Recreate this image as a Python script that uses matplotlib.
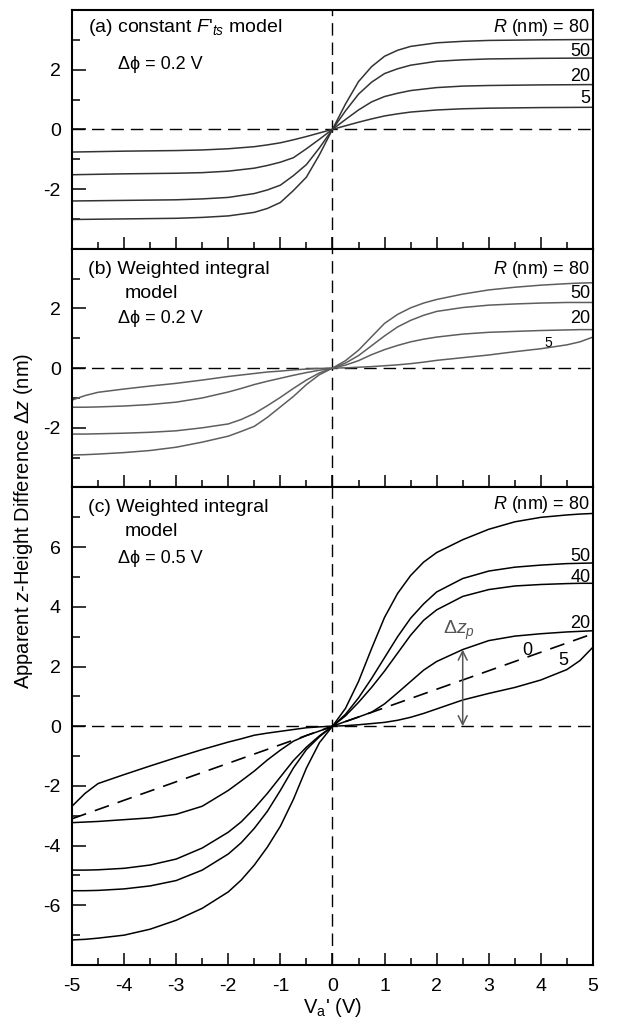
import numpy as np
import matplotlib
matplotlib.use('Agg')
import matplotlib.pyplot as plt
from matplotlib.ticker import MultipleLocator

plt.rcParams.update({'font.family': ['Liberation Sans', 'DejaVu Sans']})
plt.rcParams.update({'font.size': 13})
plt.rcParams.update({'axes.unicode_minus': False})
plt.rcParams.update({'mathtext.fontset': 'custom'})
plt.rcParams.update({'mathtext.rm': 'Liberation Sans'})
plt.rcParams.update({'mathtext.it': 'Liberation Sans:italic'})

#%% data
# panel (a) constant F'ts model, dphi = 0.2 V
xa = [-5, -4, -3, -2.5, -2, -1.5, -1.25, -1, -0.75, -0.5, -0.25, 0,
      0.25, 0.5, 0.75, 1, 1.25, 1.5, 2, 2.5, 3, 4, 5]
a_R80 = [-3.02, -3.0, -2.98, -2.95, -2.9, -2.78, -2.65, -2.45, -2.05, -1.6, -0.85, 0,
         0.85, 1.6, 2.1, 2.45, 2.65, 2.78, 2.9, 2.95, 2.98, 3.0, 3.01]
a_R50 = [-2.4, -2.38, -2.36, -2.33, -2.28, -2.15, -2.03, -1.87, -1.55, -1.18, -0.62, 0,
         0.62, 1.18, 1.58, 1.87, 2.03, 2.15, 2.28, 2.33, 2.36, 2.38, 2.39]
a_R20 = [-1.52, -1.49, -1.47, -1.45, -1.4, -1.3, -1.21, -1.1, -0.95, -0.65, -0.33, 0,
         0.33, 0.65, 0.92, 1.1, 1.21, 1.3, 1.4, 1.45, 1.47, 1.49, 1.5]
a_R5 = [-0.76, -0.73, -0.71, -0.69, -0.65, -0.58, -0.52, -0.45, -0.35, -0.24, -0.12, 0,
        0.12, 0.24, 0.35, 0.45, 0.52, 0.58, 0.65, 0.69, 0.71, 0.73, 0.74]

# panels (b) and (c) weighted integral model
xb = [-5, -4.75, -4.5, -4, -3.5, -3, -2.5, -2, -1.75, -1.5, -1.25, -1, -0.75, -0.5, -0.25, 0,
      0.25, 0.5, 0.75, 1, 1.25, 1.5, 1.75, 2, 2.5, 3, 3.5, 4, 4.5, 4.75, 5]
b_R80 = [-2.91, -2.9, -2.88, -2.83, -2.76, -2.65, -2.48, -2.28, -2.12, -1.95, -1.65, -1.3, -0.95, -0.55, -0.22, 0,
         0.25, 0.6, 1.05, 1.5, 1.8, 2.02, 2.18, 2.3, 2.48, 2.62, 2.71, 2.78, 2.83, 2.85, 2.86]
b_R50 = [-2.21, -2.21, -2.2, -2.18, -2.15, -2.1, -2.0, -1.87, -1.72, -1.52, -1.26, -0.98, -0.68, -0.4, -0.16, 0,
         0.17, 0.42, 0.75, 1.08, 1.38, 1.6, 1.77, 1.9, 2.03, 2.11, 2.15, 2.18, 2.2, 2.2, 2.2]
b_R20 = [-1.31, -1.31, -1.3, -1.27, -1.22, -1.14, -1.0, -0.8, -0.68, -0.55, -0.44, -0.34, -0.24, -0.15, -0.07, 0,
         0.1, 0.25, 0.45, 0.62, 0.76, 0.88, 0.97, 1.04, 1.14, 1.2, 1.23, 1.26, 1.28, 1.29, 1.29]
b_R5 = [-1.07, -0.92, -0.81, -0.7, -0.6, -0.51, -0.4, -0.28, -0.23, -0.18, -0.13, -0.1, -0.06, -0.03, -0.01, 0,
        0.01, 0.03, 0.05, 0.08, 0.11, 0.15, 0.2, 0.26, 0.35, 0.44, 0.55, 0.65, 0.78, 0.88, 1.04]

c_R80 = [-7.16, -7.14, -7.1, -7.0, -6.8, -6.5, -6.1, -5.55, -5.15, -4.65, -4.05, -3.35, -2.45, -1.4, -0.55, 0,
         0.6, 1.5, 2.6, 3.65, 4.45, 5.05, 5.5, 5.82, 6.25, 6.6, 6.85, 7.0, 7.08, 7.11, 7.13]
c_R50 = [-5.51, -5.51, -5.5, -5.45, -5.35, -5.17, -4.82, -4.28, -3.9, -3.42, -2.85, -2.15, -1.4, -0.78, -0.35, 0,
         0.4, 0.95, 1.6, 2.3, 3.0, 3.62, 4.1, 4.5, 4.95, 5.2, 5.33, 5.4, 5.45, 5.46, 5.47]
c_R40 = [-4.82, -4.82, -4.81, -4.76, -4.65, -4.45, -4.08, -3.55, -3.2, -2.75, -2.25, -1.7, -1.15, -0.7, -0.32, 0,
         0.35, 0.8, 1.3, 1.85, 2.45, 3.05, 3.55, 3.9, 4.35, 4.58, 4.7, 4.75, 4.78, 4.79, 4.79]
c_R20 = [-3.23, -3.21, -3.19, -3.13, -3.07, -2.95, -2.68, -2.15, -1.83, -1.5, -1.13, -0.8, -0.5, -0.31, -0.16, 0,
         0.16, 0.31, 0.47, 0.75, 1.12, 1.5, 1.88, 2.17, 2.57, 2.87, 3.02, 3.1, 3.16, 3.18, 3.2]
c_R5 = [-2.68, -2.25, -1.92, -1.62, -1.33, -1.05, -0.78, -0.53, -0.42, -0.3, -0.23, -0.17, -0.11, -0.05, -0.02, 0,
        0.02, 0.05, 0.09, 0.13, 0.2, 0.3, 0.43, 0.58, 0.88, 1.1, 1.3, 1.55, 1.9, 2.2, 2.65]
# R = 0 reference (dashed straight line)
x_R0 = [-5, 5]
c_R0 = [-3.1, 3.1]

# delta z_p arrow
arrow_x = 2.5
arrow_top = 2.57

#%% plot
fig = plt.figure(figsize=(6.17, 10.30), dpi=100)
gs = fig.add_gridspec(3, 1, height_ratios=[1, 1, 2], hspace=0,
                      left=0.1167, right=0.961, top=0.9903, bottom=0.0631)
ax1 = fig.add_subplot(gs[0])
ax2 = fig.add_subplot(gs[1], sharex=ax1)
ax3 = fig.add_subplot(gs[2], sharex=ax1)

dash = (9, 5)
for ax in (ax1, ax2, ax3):
    ax.axhline(0, color='k', lw=1.0, dashes=dash)
    ax.axvline(0, color='k', lw=1.0, dashes=dash)

c_a = '#333333'
for y in (a_R80, a_R50, a_R20, a_R5):
    ax1.plot(xa, y, color=c_a, lw=1.1)

c_b = '#5e5e5e'
for y in (b_R80, b_R50, b_R20, b_R5):
    ax2.plot(xb, y, color=c_b, lw=1.1)

for y in (c_R80, c_R50, c_R40, c_R20, c_R5):
    ax3.plot(xb, y, color='k', lw=1.1)
ax3.plot(x_R0, c_R0, color='k', lw=1.2, dashes=(9, 5.5))

ax3.annotate('', xy=(arrow_x, arrow_top), xytext=(arrow_x, 0),
             arrowprops=dict(arrowstyle='<->', color='#555555', lw=1.1,
                             shrinkA=0, shrinkB=0, mutation_scale=16))
ax3.text(2.42, 3.2, r'$\Delta z_p$', color='#555555', fontsize=14,
         ha='center', va='center')

# labels
ax1.text(-4.7, 3.42, "(a) constant $F$'$_{ts}$ model", ha='left', va='center', fontsize=14)
ax1.text(-4.12, 2.19, 'Δϕ = 0.2 V', ha='left', va='center')
ax1.text(4.95, 3.42, '$R$ (nm) = 80', ha='right', va='center')
ax1.text(4.95, 2.62, '50', ha='right', va='center')
ax1.text(4.95, 1.76, '20', ha='right', va='center')
ax1.text(4.95, 1.04, '5', ha='right', va='center')

ax2.text(-4.7, 3.31, '(b) Weighted integral', ha='left', va='center', fontsize=14)
ax2.text(-3.98, 2.5, 'model', ha='left', va='center', fontsize=14)
ax2.text(-4.12, 1.66, 'Δϕ = 0.2 V', ha='left', va='center')
ax2.text(4.95, 3.31, '$R$ (nm) = 80', ha='right', va='center')
ax2.text(4.95, 2.5, '50', ha='right', va='center')
ax2.text(4.95, 1.66, '20', ha='right', va='center')
ax2.text(4.15, 0.84, '5', ha='center', va='center', fontsize=10)

ax3.text(-4.7, 7.33, '(c) Weighted integral', ha='left', va='center', fontsize=14)
ax3.text(-3.98, 6.52, 'model', ha='left', va='center', fontsize=14)
ax3.text(-4.12, 5.61, 'Δϕ = 0.5 V', ha='left', va='center')
ax3.text(4.95, 7.42, '$R$ (nm) = 80', ha='right', va='center')
ax3.text(4.95, 5.7, '50', ha='right', va='center')
ax3.text(4.95, 5.0, '40', ha='right', va='center')
ax3.text(4.95, 3.44, '20', ha='right', va='center')
ax3.text(3.74, 2.54, '0', ha='center', va='center')
ax3.text(4.43, 2.2, '5', ha='center', va='center')

# axes styling
for ax in (ax1, ax2, ax3):
    for s in ax.spines.values():
        s.set_linewidth(1.5)
    ax.tick_params(which='both', direction='in', top=False, right=False,
                   width=1.1, labelsize=14)
    ax.tick_params(axis='y', which='major', length=10, pad=8)
    ax.tick_params(axis='y', which='minor', length=6)
    ax.tick_params(axis='x', which='major', length=8.5)
    ax.tick_params(axis='x', which='minor', length=5)
    ax.xaxis.set_major_locator(MultipleLocator(1))
    ax.xaxis.set_minor_locator(MultipleLocator(0.5))
    ax.yaxis.set_minor_locator(MultipleLocator(1))

ax1.set_xlim(-5, 5)
ax1.set_ylim(-4, 4)
ax2.set_ylim(-4, 4)
ax3.set_ylim(-8, 8)
ax1.set_yticks([-2, 0, 2])
ax2.set_yticks([-2, 0, 2])
ax3.set_yticks([-6, -4, -2, 0, 2, 4, 6])
ax1.tick_params(axis='x', labelbottom=False)
ax2.tick_params(axis='x', labelbottom=False)
ax3.tick_params(axis='x', pad=9)

ax3.set_xlabel("V$_\\mathrm{a}$' (V)", fontsize=14.5, labelpad=1)
fig.text(0.038, 1 - 521 / 1030, 'Apparent $z$-Height Difference Δ$z$ (nm)',
         rotation=90, ha='center', va='center', fontsize=14.5)

fig.savefig('out.png', dpi=100)
